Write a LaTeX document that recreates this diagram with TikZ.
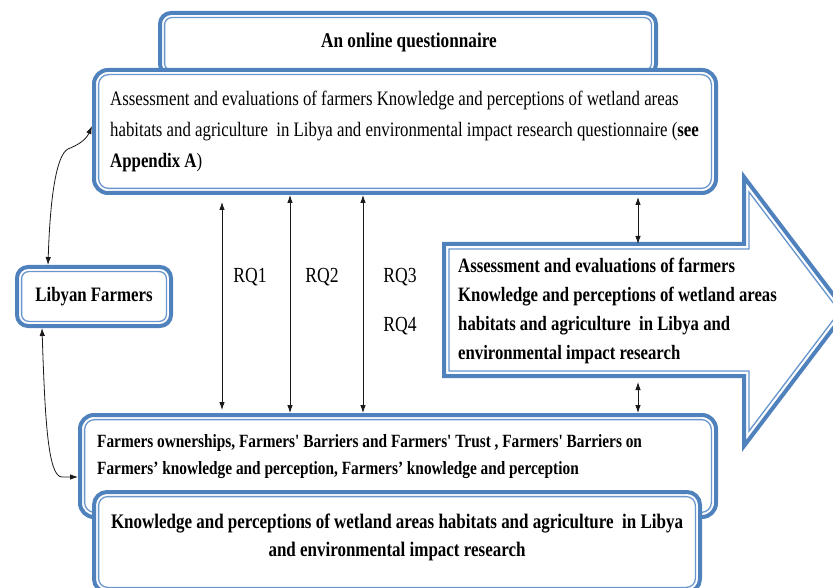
\documentclass[tikz,border=0pt]{standalone}
\usepackage{fontspec}
\setmainfont{Liberation Serif}[FakeStretch=0.82, Ligatures=TeXOff]
\newfontfamily\tnr{Liberation Serif}[FakeStretch=0.82, Ligatures=TeXOff]
\usetikzlibrary{arrows.meta,calc}
\definecolor{boxblue}{RGB}{79,129,189}
\definecolor{innerblue}{RGB}{104,150,205}
\newcommand{\innerframe}[2]{\draw[innerline, rounded corners=#2] ([shift={(6.6pt,6.6pt)}]#1.south west) rectangle ([shift={(-6.6pt,-6.6pt)}]#1.north east);}
\tikzset{
  frame/.style={draw=boxblue, line width=4pt, fill=white, inner sep=0pt, minimum width=#1},
  innerline/.style={draw=innerblue, line width=1.3pt},
  arrowframe/.style={draw=boxblue, line width=4pt, fill=white, line join=miter},
  conn/.style={draw=black!90, line width=0.8pt, {Latex[length=8pt,width=5.5pt]}-{Latex[length=8pt,width=5.5pt]}},
}
\begin{document}
\begin{tikzpicture}[x=1pt,y=-1pt]
\useasboundingbox (0,0) rectangle (833,588);
\clip (0,0) rectangle (833,588);
% top box A
\node[frame=496pt, minimum height=62pt, rounded corners=11pt] (A) at (408,44) {};
\innerframe{A}{7pt}
% box B
\node[frame=622pt, minimum height=123pt, rounded corners=14pt] (B) at (405,131.5) {};
\innerframe{B}{10pt}
\node[inner sep=0pt, font=\tnr\bfseries\fontsize{21}{21}\selectfont] (Atxt) at (409,42) {An online questionnaire};
\node[inner sep=0pt, anchor=west, align=left, font=\tnr\fontsize{20.5}{31}\selectfont] (Btxt) at (110,131)
 {Assessment and evaluations of farmers Knowledge and perceptions of wetland areas\\
  habitats and agriculture~ in Libya and environmental impact research questionnaire (\textbf{see}\\
  \textbf{Appendix A})};
% Libyan farmers
\node[frame=154pt, minimum height=59pt, rounded corners=11pt, font=\tnr\bfseries\fontsize{20.5}{20.5}\selectfont] (LF) at (94,296.5) {Libyan Farmers};
\innerframe{LF}{7pt}
% big arrow
\draw[arrowframe] (444,244) -- (744,244) -- (744,177) -- (846,311.5) -- (744,446) -- (744,376) -- (444,376) -- cycle;
\draw[innerline, line join=miter] (449,249) -- (749,249) -- (749,192) -- (839.7,311.5) -- (749,431) -- (749,371) -- (449,371) -- cycle;
\coordinate (arrtop) at (638,244);
\coordinate (arrbot) at (638,376);
\node[inner sep=0pt, anchor=west, align=left, font=\tnr\bfseries\fontsize{20.4}{28.7}\selectfont] (arrtxt) at (458,311)
 {Assessment and evaluations of farmers\\
  Knowledge and perceptions of wetland areas\\
  habitats and agriculture~ in Libya and\\
  environmental impact research};
% box C
\node[frame=636pt, minimum height=102pt, rounded corners=14pt] (C) at (398,466) {};
\innerframe{C}{10pt}
\node[inner sep=0pt, anchor=west, align=left, font=\tnr\bfseries\fontsize{18.7}{27}\selectfont] (Ctxt) at (97,456.5)
 {Farmers ownerships, Farmers' Barriers and Farmers' Trust , Farmers' Barriers on\\
  Farmers’ knowledge and perception, Farmers’ knowledge and perception};
% box D
\node[frame=606pt, minimum height=100pt, rounded corners=13pt] (D) at (397,542) {};
\innerframe{D}{9pt}
\node[inner sep=0pt, align=center, font=\tnr\bfseries\fontsize{20.7}{28}\selectfont] (Dtxt) at (397,537)
 {Knowledge and perceptions of wetland areas habitats and agriculture~ in Libya\\
  and environmental impact research};
% RQ labels
\node[inner sep=0pt, font=\tnr\fontsize{21.5}{21.5}\selectfont] (rq1) at (250,277) {RQ1};
\node[inner sep=0pt, font=\tnr\fontsize{21.5}{21.5}\selectfont] (rq2) at (322,277) {RQ2};
\node[inner sep=0pt, font=\tnr\fontsize{21.5}{21.5}\selectfont] (rq3) at (400,277) {RQ3};
\node[inner sep=0pt, font=\tnr\fontsize{21.5}{21.5}\selectfont] (rq4) at (400,326) {RQ4};
% connectors
\coordinate (q1) at (222,0);
\coordinate (q2) at (290,0);
\coordinate (q3) at (363,0);
\coordinate (q4) at (638,0);
\draw[conn, shorten <=7pt, shorten >=3pt] (q1 |- B.south) -- (q1 |- C.north);
\draw[conn] (q2 |- B.south) -- (q2 |- C.north);
\draw[conn] (q3 |- B.south) -- (q3 |- C.north);
\draw[conn, shorten <=2pt] (q4 |- B.south) -- (arrtop);
\draw[conn, shorten <=6pt] (arrbot) -- (q4 |- C.north);
\draw[conn] ([yshift=5.5pt]B.west) .. controls (86,140) and (78,145) .. (68,149) .. controls (56,155) and (50,200) .. ([xshift=-46pt]LF.north);
\draw[conn] ([xshift=-52pt]LF.south) .. controls (45,420) and (48,477) .. (62,477) -- ([yshift=-11pt]C.west);
\end{tikzpicture}
\end{document}
